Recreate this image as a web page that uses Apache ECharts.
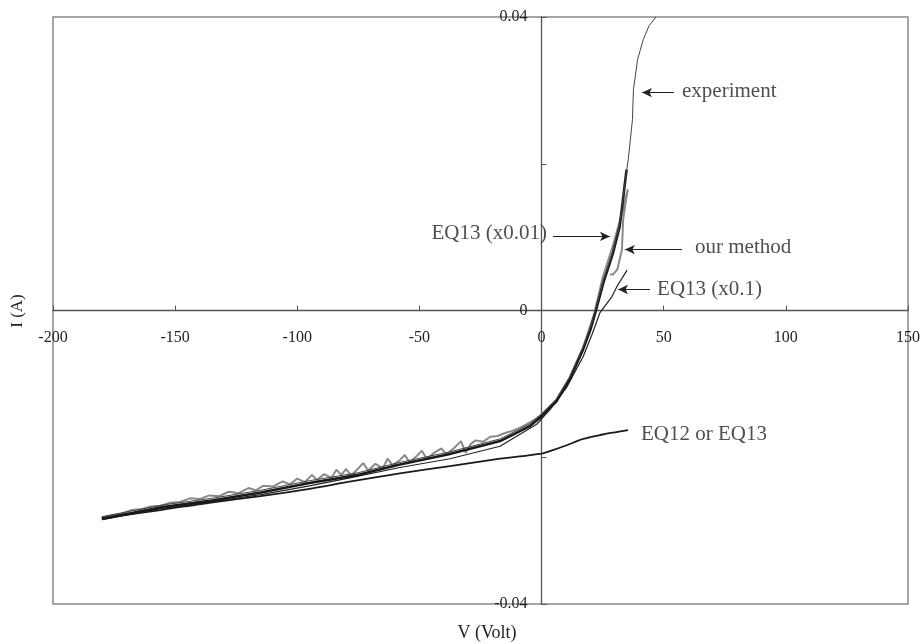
<!DOCTYPE html>
<html>
<head>
<meta charset="utf-8">
<script src="https://cdn.jsdelivr.net/npm/echarts@6/dist/echarts.min.js"></script>
<style>html,body{margin:0;padding:0;background:#fff}#c{width:923px;height:644px}</style>
</head>
<body>
<div id="c"></div>
<script>
// ---- data (V in volts, I in amperes) ----
const experiment = [[-180,-0.0281],[-155,-0.0265],[-135,-0.0256],[-115,-0.0245],[-95,-0.0232],[-75,-0.0221],[-58,-0.0207],[-38,-0.0193],[-17,-0.0175],[-5,-0.0155],[0,-0.0141],[6,-0.0121],[11.5,-0.0091],[17,-0.0050],[20,-0.0023],[22,0.0000],[25.3,0.0041],[29.3,0.0082],[32,0.0118],[34.8,0.0190],[35.5,0.0206],[37.2,0.0260],[37.6,0.0301],[39.3,0.0342],[41.6,0.0369],[44,0.0388],[46.8,0.0400]];
const ourMethod = [[-180,-0.0284],[-155,-0.0268],[-135,-0.0259],[-115,-0.0248],[-95,-0.0235],[-75,-0.0224],[-58,-0.0210],[-38,-0.0196],[-17,-0.0178],[-5,-0.0158],[0,-0.0144],[6,-0.0124],[11.5,-0.0094],[17,-0.0053],[20,-0.0026],[22,-0.0003],[25.3,0.0038],[29.3,0.0079],[32,0.0115],[34.8,0.0192]];
const eq13x001 = [[-180,-0.0283],[-176,-0.0279],[-172,-0.0277],[-168,-0.0272],[-164,-0.0271],[-160,-0.0267],[-156,-0.0266],[-152,-0.0262],[-148,-0.0261],[-144,-0.0256],[-140,-0.0257],[-136,-0.0252],[-132,-0.0253],[-128,-0.0247],[-124,-0.0249],[-120,-0.0242],[-117,-0.0245],[-114,-0.0239],[-110,-0.0240],[-106,-0.0233],[-103,-0.0237],[-100,-0.0229],[-97,-0.0234],[-94,-0.0224],[-92,-0.0231],[-89,-0.0223],[-86,-0.0228],[-84,-0.0217],[-82,-0.0224],[-80,-0.0216],[-78,-0.0225],[-75,-0.0215],[-73,-0.0208],[-71,-0.0218],[-68,-0.0209],[-65,-0.0215],[-63,-0.0202],[-61,-0.0211],[-58,-0.0204],[-56,-0.0197],[-54,-0.0207],[-51,-0.0198],[-49,-0.0191],[-47,-0.0202],[-44,-0.0194],[-41,-0.0188],[-39,-0.0196],[-36,-0.0188],[-33,-0.0178],[-31,-0.0194],[-29,-0.0182],[-27,-0.0177],[-24,-0.0179],[-21,-0.0172],[-18,-0.0171],[-15,-0.0167],[-12,-0.0164],[-9,-0.0160],[-6,-0.0155],[-3,-0.0149],[0,-0.0142],[6,-0.0122],[11.5,-0.0091],[17,-0.0050],[21.5,-0.0005],[25,0.0045],[29,0.0086],[32,0.0122],[34.5,0.0155],[35.3,0.0165],[34.4,0.0147],[33.4,0.0124],[32.9,0.0083],[31,0.0056],[29.2,0.0049],[28,0.0049]];
const eq13x01 = [[-180,-0.0285],[-156,-0.0270],[-136,-0.0261],[-115,-0.0251],[-95,-0.0239],[-78.5,-0.0228],[-58,-0.0214],[-37.5,-0.0202],[-17,-0.0185],[-2,-0.0155],[3.4,-0.0135],[10.4,-0.0104],[17,-0.0063],[20.6,-0.0033],[23.9,-0.0003],[28.8,0.0019],[30.9,0.0033],[35,0.0055]];
const eq12 = [[-180,-0.0283],[-156,-0.0272],[-136,-0.0262],[-115,-0.0253],[-95,-0.0243],[-78,-0.0233],[-58,-0.0222],[-37.5,-0.0212],[-17,-0.0202],[0,-0.0195],[4,-0.0191],[10,-0.0184],[17,-0.0175],[25,-0.0169],[30,-0.0166],[35.4,-0.0163]];

// annotation texts and arrows (data coordinates)
const labelTexts = ['experiment','our method','EQ13 (x0.1)','EQ13 (x0.01)','EQ12 or EQ13'];
const labelAnchors = [[57.5,0.02985],[62.8,0.0086],[47.3,0.00286],[2.2,0.0105],[40.7,-0.0169]];
const labelSides = ['right','right','right','left','right'];
const arrows = [[[54.2,0.0297],[41.1,0.0297]],[[4.7,0.0101],[28.0,0.0101]],[[57.5,0.0083],[34.1,0.0083]],[[44.4,0.00286],[31.3,0.00286]]];

const xTicks = {min:-200,max:150,interval:50};
const yTicks = {min:-0.04,max:0.04,interval:0.02};

const FONT = '"Liberation Serif","DejaVu Serif",serif';
const GRID = {left:53,right:15,top:17,bottom:40};
const W = 923, H = 644;
const gw = W - GRID.left - GRID.right, gh = H - GRID.top - GRID.bottom;
// place the axes where the other axis is zero (labels follow the axis line)
const yAxisOffset = -gw * (0 - xTicks.min) / (xTicks.max - xTicks.min);
const xAxisOffset = -gh * (0 - yTicks.min) / (yTicks.max - yTicks.min);

const chart = echarts.init(document.getElementById('c'));

chart.setOption({
  animation:false,
  backgroundColor:'#fff',
  grid:Object.assign({show:true,borderColor:'#888',borderWidth:1.5,containLabel:false},GRID),
  xAxis:{type:'value',min:xTicks.min,max:xTicks.max,interval:xTicks.interval,position:'bottom',offset:xAxisOffset,
    axisLine:{onZero:false,lineStyle:{color:'#555',width:1.3}},
    axisTick:{inside:true,length:5,lineStyle:{color:'#555'}},
    axisLabel:{margin:19,fontFamily:FONT,fontSize:16,color:'#222',showMinLabel:true,showMaxLabel:true},
    splitLine:{show:false}},
  yAxis:{type:'value',min:yTicks.min,max:yTicks.max,interval:yTicks.interval,position:'left',offset:yAxisOffset,
    axisLine:{onZero:false,lineStyle:{color:'#555',width:1.3}},
    axisTick:{inside:true,length:5,lineStyle:{color:'#555'}},
    axisLabel:{margin:14,fontFamily:FONT,fontSize:16,color:'#222',showMinLabel:true,showMaxLabel:true,
      formatter:function(v){ if(Math.abs(v)<1e-9) return '0'; if(Math.abs(Math.abs(v)-0.04)<1e-9) return v.toFixed(2); return ''; }},
    splitLine:{show:false}},
  graphic:[
    {type:'text',x:18,y:311,rotation:Math.PI/2,style:{text:'I (A)',font:'17px '+FONT,fill:'#222',textAlign:'center',textVerticalAlign:'middle'}},
    {type:'text',x:487,y:633,style:{text:'V (Volt)',font:'18px '+FONT,fill:'#222',textAlign:'center',textVerticalAlign:'middle'}}
  ],
  series:[
    {name:'EQ12 or EQ13',type:'line',data:eq12,showSymbol:false,smooth:0.3,lineStyle:{color:'#1a1a1a',width:1.8},z:3},
    {name:'EQ13 (x0.1)',type:'line',data:eq13x01,showSymbol:false,lineStyle:{color:'#222',width:1.2},z:3},
    {name:'EQ13 (x0.01)',type:'line',data:eq13x001,showSymbol:false,lineStyle:{color:'#8a8a8a',width:2},z:2},
    {name:'our method',type:'line',data:ourMethod,showSymbol:false,lineStyle:{color:'#1a1a1a',width:2.6},z:4},
    {name:'experiment',type:'line',data:experiment,showSymbol:false,lineStyle:{color:'#444',width:1},z:5,
      markLine:{silent:true,animation:false,symbol:['none','arrow'],symbolSize:[7,10],
        lineStyle:{color:'#222',width:1.2,type:'solid'},label:{show:false},
        data:arrows.map(a=>[{coord:a[0]},{coord:a[1]}])}},
    {name:'labels',type:'scatter',symbolSize:0,silent:true,z:6,
      data:labelAnchors.map((p,i)=>({value:p,label:{show:true,position:labelSides[i],distance:0,formatter:labelTexts[i],
        fontFamily:FONT,fontSize:21,color:'#222'}}))}
  ]
});
</script>
</body>
</html>
